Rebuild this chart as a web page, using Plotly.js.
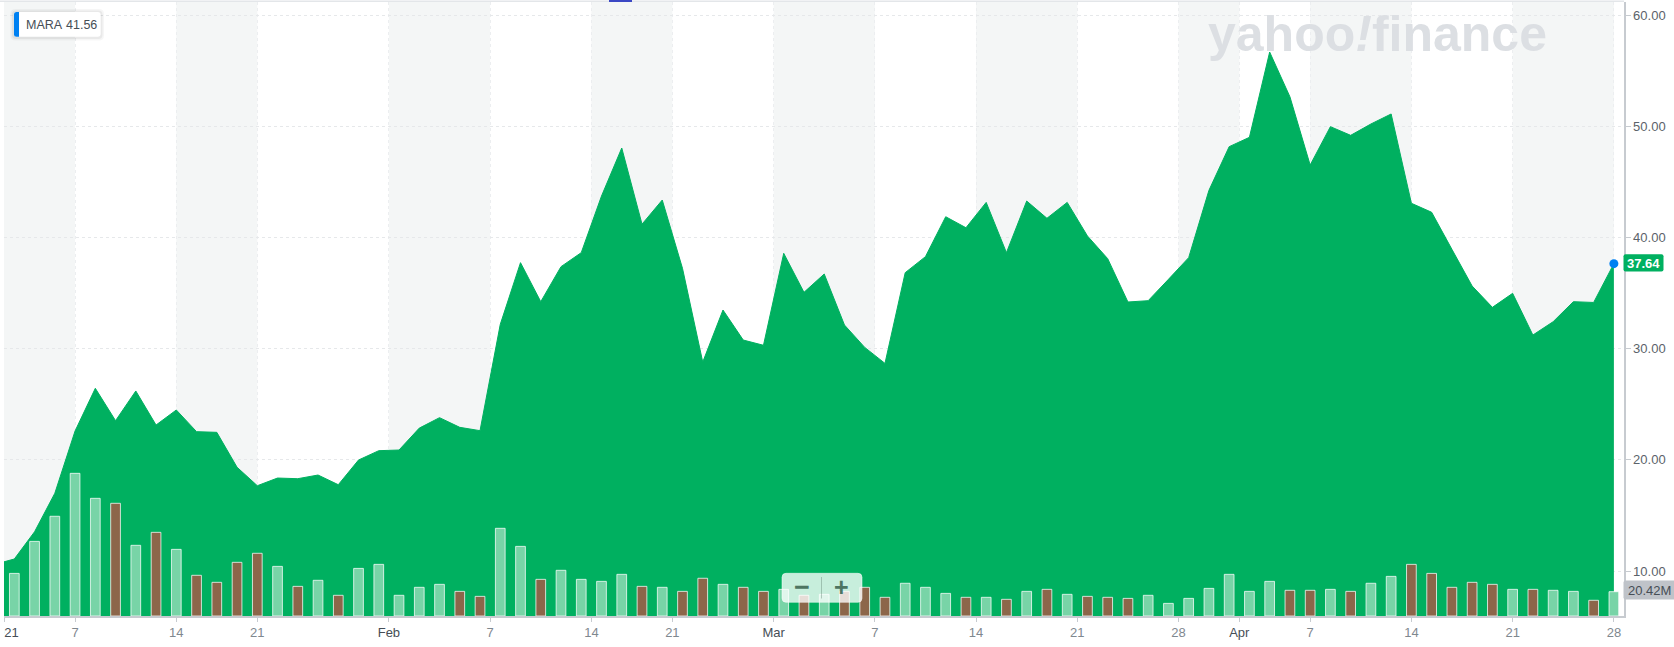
<!DOCTYPE html>
<html>
<head>
<meta charset="utf-8">
<script src="https://cdn.plot.ly/plotly-3.0.1.min.js"></script>
<style>html,body{margin:0;padding:0;background:#fff;}#chart{width:1674px;height:647px;}</style>
</head>
<body>
<div id="chart"></div>
<script>
// ---------- DATA ----------
const symbol = 'MARA';
const legendValue = '41.56';
const lastCloseLabel = '37.64';
const lastVolumeLabel = '20.42M';
const dates = [
 '2020-12-31',
 '2021-01-04','2021-01-05','2021-01-06','2021-01-07','2021-01-08','2021-01-11','2021-01-12','2021-01-13','2021-01-14','2021-01-15',
 '2021-01-19','2021-01-20','2021-01-21','2021-01-22','2021-01-25','2021-01-26','2021-01-27','2021-01-28','2021-01-29',
 '2021-02-01','2021-02-02','2021-02-03','2021-02-04','2021-02-05','2021-02-08','2021-02-09','2021-02-10','2021-02-11','2021-02-12',
 '2021-02-16','2021-02-17','2021-02-18','2021-02-19','2021-02-22','2021-02-23','2021-02-24','2021-02-25','2021-02-26',
 '2021-03-01','2021-03-02','2021-03-03','2021-03-04','2021-03-05','2021-03-08','2021-03-09','2021-03-10','2021-03-11','2021-03-12',
 '2021-03-15','2021-03-16','2021-03-17','2021-03-18','2021-03-19','2021-03-22','2021-03-23','2021-03-24','2021-03-25','2021-03-26',
 '2021-03-29','2021-03-30','2021-03-31',
 '2021-04-01','2021-04-05','2021-04-06','2021-04-07','2021-04-08','2021-04-09','2021-04-12','2021-04-13','2021-04-14','2021-04-15',
 '2021-04-16','2021-04-19','2021-04-20','2021-04-21','2021-04-22','2021-04-23','2021-04-26','2021-04-27','2021-04-28'
];
const closes = [
 10.58,
 11.08,13.53,16.99,22.59,26.43,23.52,26.19,23.13,24.48,22.53,
 22.47,19.33,17.67,18.36,18.30,18.63,17.76,19.98,20.82,
 20.88,22.85,23.79,22.92,22.62,32.18,37.73,34.22,37.37,38.63,
 43.72,48.04,41.19,43.36,37.22,28.79,33.47,30.77,30.30,
 38.57,35.06,36.71,32.12,30.11,28.67,36.83,38.27,41.86,40.87,
 43.15,38.63,43.27,41.72,43.15,40.13,38.09,34.19,34.31,36.23,
 38.18,44.23,48.16,
 49.00,56.67,52.65,46.51,49.96,49.18,50.20,51.10,43.07,42.26,
 38.93,35.63,33.71,34.97,31.22,32.42,34.22,34.15,37.64
];
// volume in millions
const volumesM = [
 null,
 35.8,62.7,83.8,119.9,98.9,94.7,59.4,70.3,56.0,34.2,
 28.3,45.1,52.7,41.7,24.9,30.0,17.4,40.0,43.4,
 17.4,24.1,26.6,20.7,16.5,73.7,58.5,30.8,38.4,30.8,
 29.1,35.0,24.9,24.1,20.7,31.7,26.6,24.1,20.7,
 22.4,17.4,18.2,20.7,24.1,15.7,27.5,24.1,19.0,15.7,
 15.7,14.0,20.7,22.4,18.2,16.5,15.7,14.8,17.4,10.6,
 14.8,23.2,35.0,
 20.7,29.1,21.6,21.6,22.4,20.7,27.5,33.3,43.4,35.8,
 24.1,28.3,26.6,22.4,22.4,21.6,20.7,13.2,20.42
];
const tickDates  = ['2021-01-01','2021-01-07','2021-01-14','2021-01-21','2021-02-01','2021-02-07','2021-02-14','2021-02-21',
                    '2021-03-01','2021-03-07','2021-03-14','2021-03-21','2021-03-28','2021-04-01','2021-04-07','2021-04-14','2021-04-21','2021-04-28'];
const tickLabels = ['2021','7','14','21','Feb','7','14','21','Mar','7','14','21','28','Apr','7','14','21','28'];
const yTickValues = [10,20,30,40,50,60];

// ---------- BUILD ----------
const W = 1674, H = 647;
const M = {l:4, r:50, t:2, b:31};
const PW = W - M.l - M.r, PH = H - M.t - M.b;
const px = x => (x - M.l) / PW;
const py = y => (H - M.b - y) / PH;

const xIdx = dates.map((d,i) => i);
const isMonthLabel = s => isNaN(Number(s)) || s.length === 4;
const tickPos = tickDates.map((td,k) => {
  let i = dates.findIndex(d => d >= td);
  if (i < 0) i = dates.length;
  const exact = dates[i] === td && !isMonthLabel(tickLabels[k]);
  return exact ? i : i - 0.5;
});
const tickText = tickLabels.map(s => isMonthLabel(s)
  ? '<span style="color:#464e56">' + s + '</span>' : s);

const upColor = '#78d4a7', downColor = '#8c664a', areaColor = '#00b060';
const barColors = closes.map((c,i) => i === 0 ? upColor : (c >= closes[i-1] ? upColor : downColor));
const volumes = volumesM.map(v => v === null ? null : v * 1e6);

const xRange = [0.49, dates.length - 0.5];

// alternating background bands between ticks
const shapes = [];
const bandEdges = [xRange[0]].concat(tickPos.slice(1));
for (let k = 0; k < bandEdges.length - 1; k += 2) {
  shapes.push({type:'rect', layer:'below', xref:'x', yref:'paper', x0:bandEdges[k], x1:bandEdges[k+1], y0:0, y1:1,
               fillcolor:'#f4f6f6', line:{width:0}});
}
// top rule
shapes.push({type:'line', xref:'paper', yref:'paper', x0:px(0), x1:px(1624), y0:py(1.3), y1:py(1.3), line:{color:'#e3e6e9', width:1.5}});
shapes.push({type:'rect', xref:'paper', yref:'paper', x0:px(609), x1:px(632), y0:py(0), y1:py(2), fillcolor:'#3b48c4', line:{width:0}});
// the year label is clipped at the chart's left edge, as in the reference
shapes.push({type:'rect', xref:'paper', yref:'paper', x0:px(-1), x1:px(4), y0:py(618), y1:py(647), fillcolor:'#ffffff', line:{width:0}});

function rr(x0,y0,x1,y1,r){
  const P = (x,y) => px(x) + ',' + py(y);
  return 'M' + P(x0+r,y0) + ' L' + P(x1-r,y0) + ' Q' + P(x1,y0) + ' ' + P(x1,y0+r) +
         ' L' + P(x1,y1-r) + ' Q' + P(x1,y1) + ' ' + P(x1-r,y1) +
         ' L' + P(x0+r,y1) + ' Q' + P(x0,y1) + ' ' + P(x0,y1-r) +
         ' L' + P(x0,y0+r) + ' Q' + P(x0,y0) + ' ' + P(x0+r,y0) + ' Z';
}
// legend box with shadow
shapes.push({type:'path', xref:'paper', yref:'paper', path: rr(10.5,9,104,40.5,5), fillcolor:'rgba(0,0,0,0.035)', line:{width:0}});
shapes.push({type:'path', xref:'paper', yref:'paper', path: rr(12,10.5,102.5,39,4), fillcolor:'rgba(0,0,0,0.05)', line:{width:0}});
shapes.push({type:'path', xref:'paper', yref:'paper', path: rr(14,12,100.7,36.7,3), fillcolor:'#ffffff', line:{width:0}});
shapes.push({type:'path', xref:'paper', yref:'paper',
  path: 'M'+px(19)+','+py(12)+' L'+px(16.5)+','+py(12)+' Q'+px(14)+','+py(12)+' '+px(14)+','+py(14.5)+
        ' L'+px(14)+','+py(34.2)+' Q'+px(14)+','+py(36.7)+' '+px(16.5)+','+py(36.7)+' L'+px(19)+','+py(36.7)+' Z',
  fillcolor:'#0081f2', line:{width:0}});
// last price / volume labels
shapes.push({type:'path', xref:'paper', yref:'paper', path: rr(1623.5,254.3,1663.5,271.5,2), fillcolor:'#00b060', line:{width:0}});
shapes.push({type:'path', xref:'paper', yref:'paper', path: rr(1623.5,580.5,1676,599.5,2), fillcolor:'#bfc3c9', line:{width:0}});
// zoom control
shapes.push({type:'path', xref:'paper', yref:'paper', path: rr(782,573.3,862,602.3,4), fillcolor:'rgba(255,255,255,0.78)', line:{color:'rgba(255,255,255,0.5)', width:1}});
shapes.push({type:'line', xref:'paper', yref:'paper', x0:px(821.5), x1:px(821.5), y0:py(577), y1:py(598.5), line:{color:'rgba(80,110,95,0.35)', width:1}});

const font = 'Liberation Sans, Arial, Helvetica, sans-serif';
const annotations = [
  {xref:'paper', yref:'paper', x:px(24), y:py(24.5), xanchor:'left', yanchor:'middle', text:symbol, showarrow:false,
   font:{family:font, size:12.5, color:'#464e56'}},
  {xref:'paper', yref:'paper', x:px(64), y:py(24.5), xanchor:'left', yanchor:'middle', text:legendValue, showarrow:false,
   font:{family:font, size:12.5, color:'#464e56'}},
  {xref:'paper', yref:'paper', x:px(1643.5), y:py(263), xanchor:'center', yanchor:'middle', text:'<b>'+lastCloseLabel+'</b>', showarrow:false,
   font:{family:font, size:13, color:'#ffffff'}},
  {xref:'paper', yref:'paper', x:px(1649), y:py(590), xanchor:'center', yanchor:'middle', text:lastVolumeLabel, showarrow:false,
   font:{family:font, size:13, color:'#464e56'}},
  {xref:'paper', yref:'paper', x:px(1377), y:py(34), xanchor:'center', yanchor:'middle', text:'<b>yahoo<i>!</i>finance</b>', showarrow:false,
   font:{family:font, size:50, color:'#dcdfe3'}},
  {xref:'paper', yref:'paper', x:px(801.5), y:py(587), xanchor:'center', yanchor:'middle', text:'<b>−</b>', showarrow:false,
   font:{family:font, size:27, color:'#4d7561'}},
  {xref:'paper', yref:'paper', x:px(841.5), y:py(587), xanchor:'center', yanchor:'middle', text:'<b>+</b>', showarrow:false,
   font:{family:font, size:25, color:'#4d7561'}}
];

const traces = [
  {type:'scatter', mode:'lines', x:xIdx, y:closes, fill:'tozeroy', fillcolor:areaColor,
   line:{color:areaColor, width:1}, hoverinfo:'skip', yaxis:'y'},
  {type:'bar', x:xIdx, y:volumes, yaxis:'y2', width:0.48,
   marker:{color:barColors, line:{color:'rgba(255,255,255,0.75)', width:1}}, hoverinfo:'skip'},
  {type:'scatter', mode:'markers', x:[xIdx[xIdx.length-1]], y:[closes[closes.length-1]],
   marker:{color:'#0081f2', size:9}, hoverinfo:'skip', yaxis:'y'}
];

const layout = {
  width:W, height:H, margin:M, showlegend:false,
  paper_bgcolor:'#ffffff', plot_bgcolor:'#ffffff',
  font:{family:font, size:13, color:'#5b636a'},
  xaxis:{type:'linear', range:xRange, tickvals:tickPos, ticktext:tickText, ticks:'outside', ticklen:4,
         tickcolor:'#c7cbd0', tickfont:{family:font, size:13, color:'#7f888f'}, ticklabeloverflow:'allow',
         showgrid:true, gridcolor:'#eceef0', griddash:'dot', gridwidth:1,
         showline:true, linecolor:'#c7cbd0', linewidth:1.5, zeroline:false, fixedrange:true},
  yaxis:{side:'right', range:[5.953, 61.17], tickvals:yTickValues, ticktext:yTickValues.map(v => v.toFixed(2)),
         ticks:'outside', ticklen:5, tickcolor:'#c7cbd0', tickfont:{family:font, size:13, color:'#5b636a'},
         showgrid:true, gridcolor:'#e6e8ea', griddash:'dot', gridwidth:1,
         showline:true, linecolor:'#c7cbd0', linewidth:1.5, zeroline:false, fixedrange:true},
  yaxis2:{overlaying:'y', range:[0, 516e6], visible:false, fixedrange:true},
  bargap:0, shapes:shapes, annotations:annotations
};

Plotly.newPlot('chart', traces, layout, {displayModeBar:false, staticPlot:true});
</script>
</body>
</html>
